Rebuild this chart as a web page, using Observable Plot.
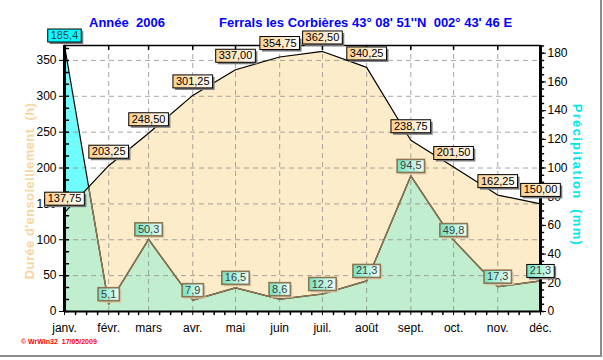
<!DOCTYPE html>
<html>
<head>
<meta charset="utf-8">
<script src="https://cdn.jsdelivr.net/npm/d3@7"></script>
<script src="https://cdn.jsdelivr.net/npm/@observablehq/plot@0.6"></script>
<style>
  body { margin: 0; background: #fff; font-family: Arial, "Liberation Sans", sans-serif; }
  #wrap { position: relative; width: 603px; height: 360px; overflow: hidden; background: #fff; }
  #chart { position: absolute; left: 0; top: 0; }
  .t { position: absolute; white-space: nowrap; line-height: 1; }
  #title1, #title2 { top: 16px; color: #0000ff; font-weight: bold; font-size: 13px; }
  #title1 { left: 89px; }
  #title2 { left: 219px; }
  #ylab { left: 29px; top: 191px; transform: translate(-50%, -50%) rotate(-90deg); color: #f6d6a2; font-weight: bold; font-size: 13px; letter-spacing: 0.4px; }
  #ylab2 { left: 577px; top: 175px; transform: translate(-50%, -50%) rotate(90deg); color: #00e6ee; font-weight: bold; font-size: 13px; letter-spacing: 1.3px; }
  #caption { left: 21px; top: 338px; color: #ff0000; font-weight: bold; font-size: 7px; }
  #border { position: absolute; left: 0; top: 0; width: 600px; height: 355px; border-right: 2px solid #8c8c8c; border-bottom: 2px solid #8c8c8c; pointer-events: none; }
</style>
</head>
<body>
<div id="wrap">
  <div id="chart"></div>
  <div class="t" id="title1">Année&nbsp; 2006</div>
  <div class="t" id="title2">Ferrals les Corbières 43° 08' 51''N&nbsp; 002° 43' 46 E</div>
  <div class="t" id="ylab">Durée d'ensoleillement&nbsp; (h)</div>
  <div class="t" id="ylab2">Précipitation&nbsp; (mm)</div>
  <div class="t" id="caption">© WrWin32&nbsp; 17/05/2009</div>
  <div id="border"></div>
</div>
<script>
// ---- data ----
const year = 2006;
const months = ["janv.", "févr.", "mars", "avr.", "mai", "juin", "juil.", "août", "sept.", "oct.", "nov.", "déc."];
const sunshine = [137.75, 203.25, 248.50, 301.25, 337.00, 354.75, 362.50, 340.25, 238.75, 201.50, 162.25, 150.00];
const precip = [185.4, 5.1, 50.3, 7.9, 16.5, 8.6, 12.2, 21.3, 94.5, 49.8, 17.3, 21.3];
const leftTicks = [0, 50, 100, 150, 200, 250, 300, 350];
const rightTicks = [0, 20, 40, 60, 80, 100, 120, 140, 160, 180];

// ---- derived ----
const ratio = 2; // hours per mm between the two axes
const dates = months.map((_, i) => new Date(Date.UTC(year, i, 1)));
const data = months.map((m, i) => ({date: dates[i], sun: sunshine[i], rain: precip[i], rainY: precip[i] * ratio}));
const yMax = d3.max(precip) * ratio;
const fmt = (v, d) => v.toFixed(d).replace(".", ",");

const leftMinor = d3.range(0, yMax, 50 / 3);
const rightMinor = d3.range(0, d3.max(precip), 5).map(v => v * ratio);
const quarterTicks = [];
for (let i = 0; i < dates.length - 1; i++) {
  const a = +dates[i], b = +dates[i + 1];
  for (let k = 1; k < 4; k++) quarterTicks.push(new Date(a + (b - a) * k / 4));
}
const tick = {draw(ctx, l) { ctx.moveTo(0, 0); ctx.lineTo(0, -l); }};

const plot = Plot.plot({
  width: 603,
  height: 360,
  marginLeft: 64,
  marginRight: 63,
  marginTop: 45,
  marginBottom: 49,
  style: {fontFamily: "Arial, 'Liberation Sans', sans-serif", fontSize: "12px", color: "#000", background: "transparent", overflow: "visible"},
  x: {type: "utc", domain: [dates[0], dates[dates.length - 1]], label: null},
  y: {domain: [0, yMax], label: null},
  marks: [
    Plot.areaY(data, {x: "date", y: "rainY", fill: "#70fcfc"}),
    Plot.areaY(data, {x: "date", y: "sun", fill: "#fdecc9"}),
    Plot.areaY(data, {x: "date", y: "rainY", fill: "#c1eecf"}),
    Plot.ruleY(leftTicks.filter(v => v > 0), {stroke: "#8a8a8a", strokeOpacity: 0.75, strokeDasharray: "5,4"}),
    Plot.ruleX(dates.slice(1, -1), {stroke: "#8a8a8a", strokeOpacity: 0.75, strokeDasharray: "5,4"}),
    Plot.line(data, {x: "date", y: "rainY", stroke: "#000", strokeWidth: 1.2}),
    Plot.line(data, {x: "date", y: "rainY", stroke: "#8b7552", strokeWidth: 1.5}),
    Plot.line(data, {x: "date", y: "sun", stroke: "#000", strokeWidth: 1.2}),
    Plot.ruleY([yMax], {stroke: "#000", strokeWidth: 1.5}),
    Plot.ruleY([0], {stroke: "#000", strokeWidth: 2}),
    Plot.ruleX([dates[0], dates[dates.length - 1]], {stroke: "#000", strokeWidth: 3}),
    Plot.axisY(leftTicks, {anchor: "left", tickSize: 5, tickPadding: 3, fontSize: 12, label: null}),
    Plot.axisY(rightTicks.map(v => v * ratio), {anchor: "right", tickSize: 5, tickPadding: 2, fontSize: 12, tickFormat: d => d / ratio, label: null}),
    Plot.axisX(dates, {anchor: "bottom", tickSize: 4, tickPadding: 8, fontSize: 12, tickFormat: d => months[d.getUTCMonth()], label: null}),
    Plot.vectorY(leftMinor, {frameAnchor: "left", rotate: 90, length: 4, anchor: "start", shape: tick, stroke: "#000"}),
    Plot.vectorY(rightMinor, {frameAnchor: "right", rotate: 90, length: 3, anchor: "start", shape: tick, stroke: "#000"}),
    Plot.vectorX(quarterTicks, {frameAnchor: "bottom", rotate: 180, length: 3, anchor: "start", shape: tick, stroke: "#000"}),
    Plot.vectorX(dates, {frameAnchor: "top", rotate: 180, length: 4, anchor: "start", shape: tick, stroke: "#000"}),
    Plot.text(data, {x: "date", y: "sun", text: d => fmt(d.sun, 2), dy: -14, fill: "#000", fontSize: 11}),
    Plot.text(data, {x: "date", y: "rainY", text: d => fmt(d.rain, 1), dy: -10, fill: "#404040", fontSize: 11})
  ]
});
document.getElementById("chart").append(plot);

// ---- post-processing: clipping and label boxes ----
const svg = d3.select(plot);
const defs = svg.insert("defs", ":first-child");
const areas = svg.selectAll('g[aria-label="area"]').nodes();
const sunPath = d3.select(areas[1]).select("path").attr("d");
defs.append("clipPath").attr("id", "sunclip").append("path").attr("d", sunPath);
d3.select(areas[2]).attr("clip-path", "url(#sunclip)");
const lines = svg.selectAll('g[aria-label="line"]').nodes();
d3.select(lines[1]).attr("clip-path", "url(#sunclip)");

function grad(id, c0, c1) {
  const g = defs.append("linearGradient").attr("id", id).attr("x1", 0).attr("x2", 1).attr("y1", 0).attr("y2", 0);
  g.append("stop").attr("offset", 0).attr("stop-color", c0);
  g.append("stop").attr("offset", 1).attr("stop-color", c1);
}
grad("gSun", "#ffd08c", "#ffffff");
grad("gRain", "#72e4c2", "#f2fff8");
grad("gCyan", "#00ffff", "#00ffff");

const texts = svg.selectAll('g[aria-label="text"]').nodes();
function boxes(group, style) {
  d3.select(group).selectAll("text").each(function(d, i) {
    const bb = this.getBBox();
    const tr = this.getAttribute("transform");
    const s = style(i);
    const x = bb.x - 3, y = bb.y, w = bb.width + 6, h = bb.height + 1;
    const sh = document.createElementNS("http://www.w3.org/2000/svg", "rect");
    d3.select(sh).attr("x", x + 2).attr("y", y + 2).attr("width", w).attr("height", h).attr("fill", s.shadow).attr("transform", tr);
    const r = document.createElementNS("http://www.w3.org/2000/svg", "rect");
    d3.select(r).attr("x", x).attr("y", y).attr("width", w).attr("height", h).attr("fill", s.fill).attr("stroke", s.stroke).attr("stroke-width", s.sw).attr("transform", tr);
    this.parentNode.insertBefore(sh, this);
    this.parentNode.insertBefore(r, this);
  });
}
boxes(texts[0], () => ({fill: "url(#gSun)", stroke: "#000", sw: 1, shadow: "#7a7a7a"}));
boxes(texts[1], i => i === 0
  ? {fill: "url(#gCyan)", stroke: "#000", sw: 1, shadow: "#7a7a7a"}
  : i === precip.length - 1
    ? {fill: "url(#gRain)", stroke: "#000", sw: 1, shadow: "#7a7a7a"}
    : {fill: "url(#gRain)", stroke: "#8b7552", sw: 1.6, shadow: "#d8caa8"});
</script>
</body>
</html>
